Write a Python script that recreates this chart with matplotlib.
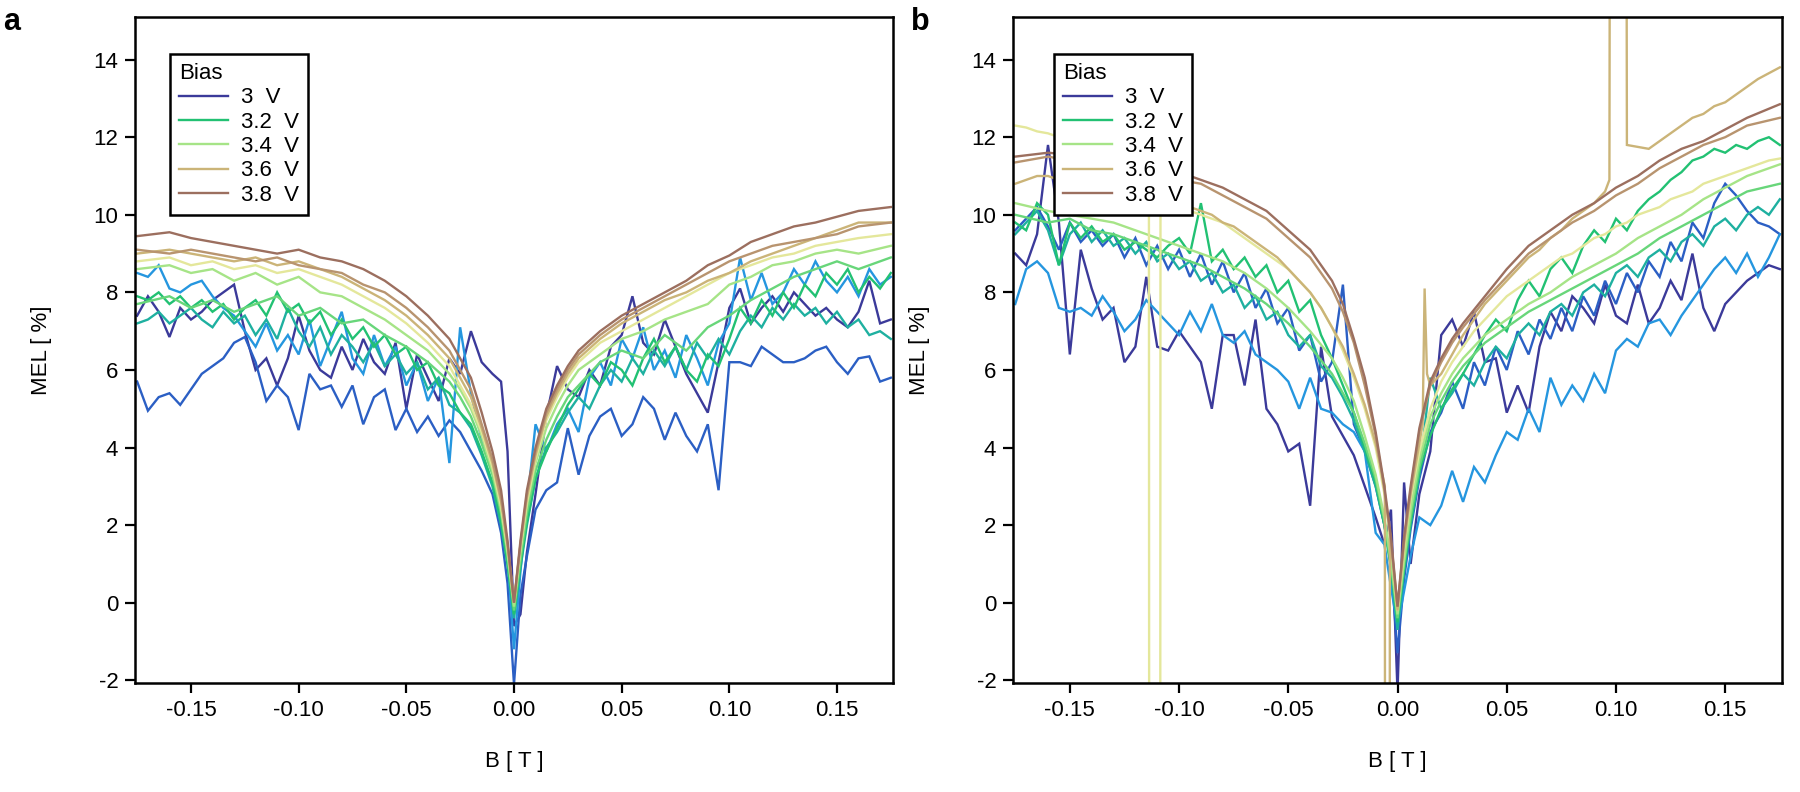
import matplotlib
matplotlib.use("Agg")
import matplotlib.pyplot as plt
from matplotlib.ticker import FormatStrFormatter

plt.rcParams['font.family'] = ['Liberation Sans', 'DejaVu Sans']
plt.rcParams['axes.unicode_minus'] = False

# field grids (T): dense one for the noisy low-bias traces, sparse one for the smooth ones
B_FINE = [-0.175, -0.17, -0.165, -0.16, -0.155, -0.15, -0.145, -0.14, -0.135, -0.13,
          -0.125, -0.12, -0.115, -0.11, -0.105, -0.10, -0.095, -0.09, -0.085, -0.08,
          -0.075, -0.07, -0.065, -0.06, -0.055, -0.05, -0.045, -0.04, -0.035, -0.03,
          -0.025, -0.02,
          -0.015, -0.01, -0.006, -0.003, 0.0, 0.003, 0.006, 0.01, 0.015,
          0.02, 0.025, 0.03, 0.035, 0.04, 0.045, 0.05, 0.055, 0.06, 0.065,
          0.07, 0.075, 0.08, 0.085, 0.09, 0.095, 0.10, 0.105, 0.11, 0.115,
          0.12, 0.125, 0.13, 0.135, 0.14, 0.145, 0.15, 0.155, 0.16, 0.165,
          0.17, 0.175]

B_COARSE = [-0.175, -0.16, -0.15, -0.14, -0.13, -0.12, -0.11, -0.10, -0.09, -0.08,
            -0.07, -0.06, -0.05, -0.04, -0.03, -0.025, -0.02,
            -0.015, -0.01, -0.006, -0.003, 0.0, 0.003, 0.006, 0.01, 0.015,
            0.02, 0.025, 0.03, 0.04, 0.05, 0.06, 0.07, 0.08, 0.09, 0.10,
            0.11, 0.12, 0.13, 0.14, 0.15, 0.16, 0.175]

# the two glitchy traces of panel b have extra points around the glitches
B_B350 = [-0.175, -0.17, -0.165, -0.16, -0.155, -0.15, -0.145, -0.14, -0.135, -0.13,
          -0.125, -0.12, -0.1138, -0.1135, -0.1088, -0.1085, -0.105, -0.10,
          -0.095, -0.09, -0.085, -0.08,
          -0.075, -0.07, -0.065, -0.06, -0.055, -0.05, -0.045, -0.04, -0.035, -0.03,
          -0.025, -0.02,
          -0.015, -0.01, -0.006, -0.003, 0.0, 0.003, 0.006, 0.01, 0.015,
          0.02, 0.025, 0.03, 0.035, 0.04, 0.045, 0.05, 0.055, 0.06, 0.065,
          0.07, 0.075, 0.08, 0.085, 0.09, 0.095, 0.10, 0.105, 0.11, 0.115,
          0.12, 0.125, 0.13, 0.135, 0.14, 0.145, 0.15, 0.155, 0.16, 0.165,
          0.17, 0.175]

B_B360 = [-0.175, -0.17, -0.165, -0.16, -0.155, -0.15, -0.145, -0.14, -0.135, -0.13,
          -0.125, -0.12, -0.115, -0.11, -0.105, -0.10, -0.095, -0.09, -0.085, -0.08,
          -0.075, -0.07, -0.065, -0.06, -0.055, -0.05, -0.045, -0.04, -0.035, -0.03,
          -0.025, -0.02,
          -0.015, -0.01, -0.0058, -0.0055, -0.0038, -0.0035, 0.0, 0.003, 0.006,
          0.0115, 0.0124, 0.0135, 0.015,
          0.02, 0.025, 0.03, 0.035, 0.04, 0.045, 0.05, 0.055, 0.06, 0.065,
          0.07, 0.075, 0.08, 0.085, 0.09, 0.095, 0.097, 0.0975, 0.1045, 0.105, 0.11, 0.115,
          0.12, 0.125, 0.13, 0.135, 0.14, 0.145, 0.15, 0.155, 0.16, 0.165,
          0.17, 0.175]

# bias values (V) and their colours
biases = [3.0, 3.05, 3.1, 3.15, 3.2, 3.3, 3.4, 3.5, 3.6, 3.7, 3.8]
colors = ['#3b3a9a', '#2b5fc4', '#2596df', '#1eb0a0', '#22c173', '#68d67a',
          '#a6e487', '#e4e79b', '#cbb478', '#b8946f', '#9c6f5f']
legend_biases = [3.0, 3.2, 3.4, 3.6, 3.8]

# ---------------- panel a : MEL [%] ----------------
a_300 = [7.4, 7.9, 7.5, 6.85, 7.6, 7.3, 7.5, 7.8, 8.0, 8.2,
         7.0, 6.0, 6.3, 5.6, 6.3, 7.4, 6.5, 6.0, 5.8, 6.6,
         6.0, 6.8, 6.2, 5.9, 6.7, 5.0, 6.4, 5.8, 5.2, 6.3,
         5.9, 7.0,
         6.2, 5.9, 5.7, 3.9, -0.6, -0.3, 1.3, 2.8, 4.8,
         6.1, 5.5, 5.3, 6.0, 5.6, 6.6, 6.9, 7.9, 6.7, 6.4,
         7.3, 6.6, 5.9, 5.4, 4.9, 6.2, 7.6, 8.1, 7.2, 7.6,
         7.9, 7.5, 8.0, 7.7, 7.4, 7.6, 7.3, 7.1, 7.5, 8.3,
         7.2, 7.3]
a_305 = [5.7, 4.95, 5.3, 5.4, 5.1, 5.5, 5.9, 6.1, 6.3, 6.7,
         6.85, 6.2, 5.2, 5.6, 5.3, 4.45, 5.9, 5.5, 5.6, 5.05,
         5.6, 4.6, 5.3, 5.5, 4.45, 5.0, 4.4, 4.8, 4.3, 4.7,
         4.4, 3.9,
         3.4, 2.8, 1.8, 0.5, -2.1, 0.2, 1.2, 2.4, 2.9,
         3.1, 4.5, 3.3, 4.3, 4.8, 5.0, 4.3, 4.6, 5.3, 5.0,
         4.2, 4.9, 4.3, 3.9, 4.6, 2.9, 6.2, 6.2, 6.1, 6.6,
         6.4, 6.2, 6.2, 6.3, 6.5, 6.6, 6.2, 5.9, 6.3, 6.35,
         5.7, 5.8]
a_310 = [8.5, 8.4, 8.7, 8.1, 8.0, 8.2, 8.3, 7.9, 7.6, 7.4,
         7.0, 6.6, 7.2, 6.5, 6.9, 6.4, 7.3, 6.1, 6.8, 7.5,
         6.3, 5.9, 6.9, 6.1, 6.6, 5.6, 6.2, 5.2, 5.8, 3.6,
         7.1, 5.4,
         4.2, 3.6, 2.4, 1.2, -1.2, 0.8, 2.5, 4.6, 3.9,
         4.6, 5.0, 4.4, 5.8, 6.2, 5.6, 6.8, 6.3, 7.1, 6.0,
         6.5, 5.8, 6.9, 6.3, 5.6, 6.7, 7.2, 8.9, 7.8, 8.5,
         7.7, 8.0, 8.6, 8.2, 8.8, 8.3, 8.0, 8.4, 7.9, 8.6,
         8.2, 8.4]
a_315 = [7.2, 7.3, 7.5, 7.2, 7.4, 7.6, 7.3, 7.1, 7.5, 7.2,
         7.4, 6.9, 7.3, 6.8, 7.6, 7.0, 6.6, 7.1, 6.4, 6.9,
         6.6, 6.2, 6.7, 6.1, 6.4, 5.9, 6.2, 5.5, 5.8, 5.1,
         4.9, 4.5,
         3.8, 3.0, 2.0, 1.0, -0.4, 0.9, 2.0, 3.2, 4.0,
         4.4, 4.9, 5.3, 5.0, 5.6, 6.0, 5.7, 6.3, 5.9, 6.5,
         6.1, 6.6, 6.0, 6.7, 6.3, 6.8, 6.4, 7.0, 7.4, 7.1,
         7.6, 7.3, 7.7, 7.4, 7.6, 7.2, 7.5, 7.1, 7.3, 6.9,
         7.0, 6.8]
a_320 = [7.9, 7.8, 8.0, 7.7, 7.9, 7.6, 7.8, 7.5, 7.7, 7.3,
         7.6, 7.8, 7.4, 8.0, 7.5, 7.7, 7.2, 7.5, 6.9, 7.3,
         6.8, 7.1, 6.6, 6.9, 6.4, 6.6, 6.0, 6.2, 5.6, 5.4,
         4.9, 4.6,
         3.9, 3.1, 2.1, 1.0, -0.3, 1.0, 2.1, 3.2, 3.9,
         4.5, 5.1, 5.5, 5.9, 5.6, 6.2, 6.0, 5.6, 6.3, 6.8,
         6.2, 6.6, 6.0, 5.7, 6.4, 6.1, 6.8, 7.6, 7.2, 7.8,
         7.4, 8.0, 7.6, 8.2, 7.9, 8.5, 8.2, 8.6, 8.0, 8.4,
         8.1, 8.5]
a_330 = [7.7, 7.9, 7.6, 7.8, 7.5, 7.7, 7.9, 7.4, 7.6, 7.2, 7.3, 6.9, 6.6, 6.2, 5.7, 5.3, 4.8,
         4.1, 3.3, 2.3, 1.2, -0.2, 1.1, 2.3, 3.4, 4.2,
         4.8, 5.3, 5.6, 6.2, 6.5, 6.3, 6.9, 6.5, 7.1, 7.4, 7.8, 8.1, 8.4, 8.6, 8.8, 8.6, 8.9]
a_340 = [8.6, 8.7, 8.5, 8.6, 8.3, 8.5, 8.2, 8.4, 8.0, 7.9, 7.6, 7.3, 6.9, 6.5, 5.9, 5.5, 5.0,
         4.3, 3.4, 2.4, 1.3, -0.1, 1.3, 2.5, 3.6, 4.5,
         5.1, 5.6, 6.0, 6.4, 6.8, 7.0, 7.3, 7.5, 7.7, 8.2, 8.4, 8.7, 8.8, 9.0, 9.1, 9.0, 9.2]
a_350 = [8.8, 8.9, 8.7, 8.8, 8.6, 8.7, 8.5, 8.6, 8.4, 8.2, 7.9, 7.6, 7.2, 6.7, 6.1, 5.6, 5.1,
         4.4, 3.5, 2.5, 1.4, 0.0, 1.4, 2.6, 3.7, 4.7,
         5.3, 5.8, 6.2, 6.7, 7.0, 7.3, 7.6, 7.9, 8.2, 8.5, 8.7, 8.9, 9.0, 9.2, 9.3, 9.4, 9.5]
a_360 = [9.0, 9.1, 9.0, 8.9, 8.8, 8.9, 8.7, 8.8, 8.6, 8.4, 8.1, 7.8, 7.4, 6.9, 6.3, 5.8, 5.3,
         4.5, 3.6, 2.6, 1.5, 0.0, 1.5, 2.7, 3.8, 4.8,
         5.4, 5.9, 6.3, 6.8, 7.2, 7.5, 7.8, 8.0, 8.3, 8.5, 8.8, 9.0, 9.2, 9.4, 9.6, 9.8, 9.8]
a_370 = [9.1, 9.0, 9.1, 9.0, 8.9, 8.8, 8.9, 8.7, 8.6, 8.5, 8.2, 8.0, 7.6, 7.1, 6.5, 6.0, 5.5,
         4.6, 3.7, 2.7, 1.5, 0.0, 1.5, 2.8, 3.9, 4.9,
         5.5, 6.0, 6.4, 6.9, 7.3, 7.6, 7.9, 8.2, 8.5, 8.8, 9.0, 9.2, 9.3, 9.4, 9.5, 9.7, 9.8]
a_380 = [9.45, 9.55, 9.4, 9.3, 9.2, 9.1, 9.0, 9.1, 8.9, 8.8, 8.6, 8.3, 7.9, 7.4, 6.8, 6.3, 5.8,
         4.9, 3.9, 2.9, 1.6, 0.0, 1.6, 2.9, 4.0, 5.0,
         5.6, 6.1, 6.5, 7.0, 7.4, 7.7, 8.0, 8.3, 8.7, 8.95, 9.3, 9.5, 9.7, 9.8, 9.95, 10.1, 10.2]

# ---------------- panel b : MEL [%] ----------------
b_300 = [9.0, 8.7, 9.5, 11.8, 9.8, 6.4, 9.1, 8.1, 7.3, 7.6,
         6.2, 6.6, 8.4, 6.6, 6.5, 7.0, 6.6, 6.2, 5.0, 6.9,
         6.9, 5.6, 7.3, 5.0, 4.6, 3.9, 4.1, 2.5, 6.6, 4.8,
         4.3, 3.8,
         3.0, 2.2, 1.5, 2.4, -2.3, 3.1, 1.0, 2.8, 3.9,
         6.9, 7.3, 6.6, 7.5, 6.2, 6.3, 4.9, 5.6, 4.9, 6.6,
         7.5, 7.0, 7.9, 7.6, 7.2, 8.2, 7.4, 7.2, 8.2, 7.2,
         7.6, 8.3, 7.8, 9.0, 7.6, 7.0, 7.7, 8.0, 8.3, 8.5,
         8.7, 8.6]
b_305 = [9.6, 9.9, 10.2, 9.7, 9.1, 9.8, 9.3, 9.6, 9.2, 9.5,
         8.9, 9.4, 8.7, 9.2, 8.6, 9.1, 8.4, 9.0, 8.2, 8.8,
         8.0, 8.5, 7.6, 8.1, 7.2, 7.6, 6.5, 6.9, 5.7, 6.2,
         8.2, 4.6,
         3.9, 3.0, 2.0, 1.0, -1.3, 0.6, 1.9, 3.2, 4.4,
         4.9, 5.7, 5.0, 6.2, 5.6, 6.6, 6.0, 7.0, 6.4, 7.3,
         6.8, 7.6, 7.0, 7.9, 7.4, 8.3, 7.7, 8.5, 8.0, 8.8,
         8.4, 9.3, 8.8, 9.8, 9.4, 10.3, 10.8, 10.5, 10.1, 9.8,
         9.7, 9.5]
b_310 = [7.7, 8.6, 8.8, 8.5, 7.6, 7.5, 7.6, 7.4, 7.9, 7.5,
         7.0, 7.3, 7.8, 7.5, 7.2, 6.9, 7.5, 7.0, 7.7, 6.9,
         6.7, 7.0, 6.4, 6.2, 6.0, 5.7, 5.0, 5.8, 5.0, 4.9,
         4.6, 4.4,
         3.9, 1.8, 1.5, 0.4, -0.6, 0.3, 1.2, 2.2, 2.0,
         2.5, 3.4, 2.6, 3.5, 3.1, 3.8, 4.4, 4.2, 5.0, 4.4,
         5.8, 5.1, 5.6, 5.2, 5.9, 5.4, 6.5, 6.8, 6.6, 7.2,
         7.3, 6.9, 7.4, 7.8, 8.2, 8.6, 8.9, 8.5, 9.0, 8.4,
         8.9, 9.5]
b_315 = [9.5, 9.8, 10.1, 9.6, 8.7, 9.5, 9.8, 9.3, 9.6, 9.2,
         9.4, 9.0, 9.3, 8.8, 9.0, 8.6, 8.8, 8.3, 8.5, 8.0,
         8.2, 7.6, 7.9, 7.3, 7.5, 6.9, 6.6, 6.9, 6.1, 5.8,
         5.3, 4.7,
         3.9, 3.0, 2.0, 0.9, -0.7, 0.8, 2.0, 3.3, 5.8,
         5.0, 5.4, 5.9, 5.6, 6.2, 6.6, 6.3, 6.9, 7.2, 6.9,
         7.5, 7.7, 7.4, 8.0, 8.2, 7.9, 8.5, 8.7, 8.4, 8.9,
         9.1, 8.8, 9.3, 9.5, 9.2, 9.7, 9.9, 9.6, 10.0, 10.2,
         10.0, 10.4]
b_320 = [9.8, 9.6, 10.3, 10.0, 8.7, 9.8, 9.4, 9.7, 9.3, 9.5,
         9.1, 9.3, 9.1, 8.9, 9.2, 9.4, 9.0, 10.3, 8.8, 9.1,
         8.6, 8.9, 8.4, 8.7, 8.0, 8.3, 7.5, 7.8, 6.9, 6.3,
         5.6, 4.9,
         4.0, 3.1, 2.0, 0.9, -0.5, 0.9, 2.1, 3.4, 4.3,
         5.0, 5.5, 5.9, 6.4, 6.9, 7.3, 7.0, 7.8, 8.3, 7.9,
         8.6, 8.9, 8.5, 9.2, 9.6, 9.3, 9.9, 9.6, 10.1, 10.4,
         10.6, 10.9, 11.1, 11.4, 11.5, 11.7, 11.6, 11.8, 11.7, 11.9,
         12.0, 11.8]
b_330 = [10.0, 9.8, 9.9, 9.6, 9.5, 9.3, 9.1, 8.9, 8.7, 8.4, 8.1, 7.7, 7.2, 6.6, 5.9, 5.4, 4.9,
         4.1, 3.2, 2.1, 1.0, -0.4, 1.0, 2.2, 3.5, 4.6,
         5.2, 5.7, 6.1, 6.7, 7.1, 7.5, 7.8, 8.1, 8.4, 8.7, 9.0, 9.4, 9.7, 10.0, 10.3, 10.6, 10.8]
b_340 = [10.3, 10.1, 10.0, 9.9, 9.8, 9.6, 9.4, 9.2, 9.0, 8.8, 8.5, 8.1, 7.6, 7.0, 6.3, 5.8, 5.2,
         4.3, 3.3, 2.2, 1.1, -0.3, 1.1, 2.4, 3.7, 4.8,
         5.4, 5.9, 6.3, 6.9, 7.3, 7.7, 8.0, 8.4, 8.7, 9.0, 9.4, 9.7, 10.0, 10.4, 10.7, 11.0, 11.3]
# 3.5 V and 3.6 V in b carry the measurement glitches (off-scale points)
b_350 = [12.3, 12.25, 12.15, 12.1, 12.0, 11.9, 11.8, 11.6, 11.5, 11.3,
         11.1, 10.9, 10.7, -30.0, -30.0, 10.4, 10.3, 10.2,
         10.1, 10.0, 9.9, 9.8,
         9.6, 9.4, 9.2, 9.0, 8.8, 8.6, 8.3, 8.0, 7.6, 7.1,
         6.5, 5.8,
         5.0, 4.0, 2.8, 1.5, -0.2, 1.4, 2.7, 3.9, 5.0,
         5.7, 6.2, 6.6, 7.0, 7.3, 7.6, 7.9, 8.1, 8.3, 8.5,
         8.7, 8.9, 9.0, 9.2, 9.4, 9.5, 9.7, 9.8, 10.0, 10.1,
         10.2, 10.4, 10.5, 10.6, 10.8, 10.9, 11.0, 11.1, 11.2, 11.3,
         11.4, 11.45]
b_360 = [10.8, 10.9, 11.0, 11.0, 10.9, 10.9, 10.8, 10.8, 10.7, 10.7,
         10.6, 10.5, 10.5, 10.4, 10.4, 10.3, 10.2, 10.1, 10.0, 9.8,
         9.7, 9.5, 9.3, 9.1, 8.9, 8.6, 8.3, 8.0, 7.6, 7.1,
         6.6, 5.9,
         5.1, 4.1, 3.0, -30.0, -30.0, 1.8, -0.2, 1.5, 2.8,
         4.6, 8.1, 5.9, 5.6,
         5.9, 6.4, 6.9, 7.3, 7.7, 8.0, 8.3, 8.6, 8.9, 9.1,
         9.4, 9.6, 9.9, 10.1, 10.3, 10.6, 10.9, 30.0, 30.0, 11.8, 11.75, 11.7,
         11.9, 12.1, 12.3, 12.5, 12.6, 12.8, 12.9, 13.1, 13.3, 13.5,
         13.65, 13.8]
b_370 = [11.35, 11.5, 11.4, 11.3, 11.2, 11.1, 11.0, 10.9, 10.8, 10.5, 10.2, 9.9, 9.4, 8.9, 8.1, 7.5, 6.7,
         5.6, 4.3, 2.9, 1.6, -0.1, 1.6, 2.9, 4.4, 5.6,
         6.2, 6.7, 7.1, 7.8, 8.4, 9.0, 9.4, 9.8, 10.1, 10.5, 10.8, 11.2, 11.5, 11.8, 12.0, 12.3, 12.5]
b_380 = [11.5, 11.6, 11.55, 11.5, 11.4, 11.3, 11.2, 11.1, 10.9, 10.7, 10.4, 10.1, 9.6, 9.1, 8.3, 7.7, 6.8,
         5.8, 4.4, 3.0, 1.7, -0.1, 1.7, 3.0, 4.5, 5.7,
         6.3, 6.8, 7.2, 7.9, 8.6, 9.2, 9.6, 10.0, 10.3, 10.7, 11.0, 11.4, 11.7, 11.9, 12.2, 12.5, 12.85]

panel_a = [(B_FINE, a_300), (B_FINE, a_305), (B_FINE, a_310), (B_FINE, a_315), (B_FINE, a_320),
           (B_COARSE, a_330), (B_COARSE, a_340), (B_COARSE, a_350), (B_COARSE, a_360),
           (B_COARSE, a_370), (B_COARSE, a_380)]
panel_b = [(B_FINE, b_300), (B_FINE, b_305), (B_FINE, b_310), (B_FINE, b_315), (B_FINE, b_320),
           (B_COARSE, b_330), (B_COARSE, b_340), (B_B350, b_350), (B_B360, b_360),
           (B_COARSE, b_370), (B_COARSE, b_380)]


def draw_panel(ax, traces, legend_x):
    lines = {}
    for bias, col, (bx, mel) in zip(biases, colors, traces):
        ln, = ax.plot(bx, mel, color=col, lw=1.7, solid_joinstyle='miter')
        lines[bias] = ln

    ax.set_xlim(-0.176, 0.176)
    ax.set_ylim(-2.07, 15.1)
    ax.set_xticks([-0.15, -0.10, -0.05, 0.0, 0.05, 0.10, 0.15])
    ax.set_yticks(range(-2, 15, 2))
    ax.xaxis.set_major_formatter(FormatStrFormatter('%.2f'))
    ax.tick_params(direction='out', length=7, width=1.6, labelsize=16, pad=5,
                   top=False, right=False)
    for sp in ax.spines.values():
        sp.set_linewidth(1.8)
    ax.set_xlabel('B [ T ]', fontsize=16, labelpad=22)
    ax.set_ylabel('MEL [ %]', fontsize=16, labelpad=30)

    handles = [lines[b] for b in legend_biases]
    labels = ['3  V', '3.2  V', '3.4  V', '3.6  V', '3.8  V']
    leg = ax.legend(handles, labels, title='Bias', loc='upper left',
                    bbox_to_anchor=(legend_x, 0.944), borderaxespad=0,
                    fancybox=False, framealpha=1, edgecolor='black',
                    fontsize=16, title_fontsize=16, alignment='left',
                    handlelength=2.2, handletextpad=0.6, labelspacing=0.15,
                    borderpad=0.4)
    leg.get_frame().set_linewidth(1.8)
    leg.set_zorder(10)


fig = plt.figure(figsize=(18, 7.92), dpi=100)
ax_a = fig.add_axes([0.075, 0.1376, 0.4211, 0.841])
ax_b = fig.add_axes([0.5628, 0.1376, 0.4272, 0.841])

draw_panel(ax_a, panel_a, 0.046)
draw_panel(ax_b, panel_b, 0.053)

fig.text(0.002, 0.972, 'a', fontsize=22, fontweight='bold', va='center', ha='left')
fig.text(0.506, 0.972, 'b', fontsize=22, fontweight='bold', va='center', ha='left')

fig.savefig('out.png', dpi=100)
